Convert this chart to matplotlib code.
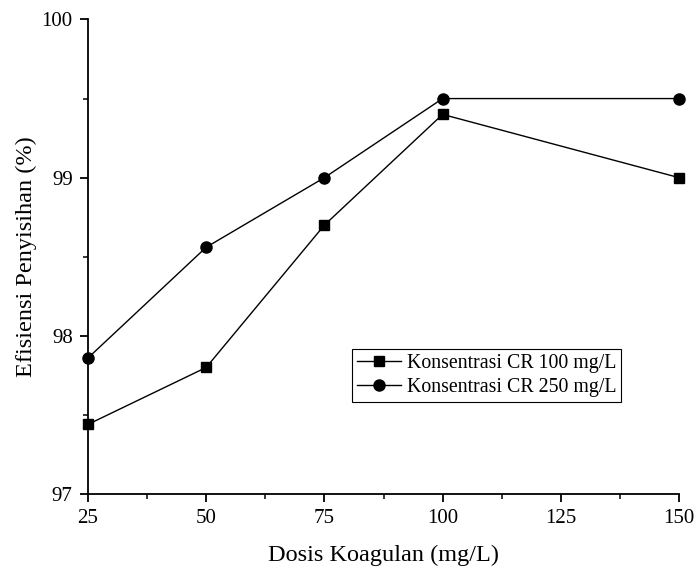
import matplotlib
matplotlib.use('Agg')
import matplotlib.pyplot as plt
from matplotlib.ticker import MultipleLocator

dosis = [25, 50, 75, 100, 150]
cr100 = [97.44, 97.80, 98.70, 99.40, 99.00]
cr250 = [97.86, 98.56, 99.00, 99.50, 99.50]

plt.rcParams['font.family'] = ['Liberation Serif', 'DejaVu Serif']

fig = plt.figure(figsize=(6.95, 5.68), dpi=100)
ax = fig.add_axes([0.1266, 0.1303, 0.8504, 0.8354])

ax.plot(dosis, cr100, color='black', lw=1, marker='s', ms=7, label='Konsentrasi CR 100 mg/L', clip_on=False, zorder=3)
ax.plot(dosis, cr250, color='black', lw=1, marker='o', ms=8, label='Konsentrasi CR 250 mg/L', clip_on=False, zorder=3)

ax.set_xlim(25, 150)
ax.set_ylim(97, 100)
ax.xaxis.set_major_locator(MultipleLocator(25))
ax.xaxis.set_minor_locator(MultipleLocator(12.5))
ax.yaxis.set_major_locator(MultipleLocator(1))
ax.yaxis.set_minor_locator(MultipleLocator(0.5))

for s in ['top', 'right']:
    ax.spines[s].set_visible(False)
for s in ['left', 'bottom']:
    ax.spines[s].set_linewidth(1.3)

ax.tick_params(which='major', direction='out', length=6, width=1.3, labelsize=15, pad=5)
ax.tick_params(which='minor', direction='out', length=3.5, width=1.1)

ax.set_xlabel('Dosis Koagulan (mg/L)', fontsize=17.5, labelpad=12)
ax.set_ylabel('Efisiensi Penyisihan (%)', fontsize=17.5, labelpad=3)

leg = ax.legend(loc='upper left', bbox_to_anchor=(0.447, 0.306), fontsize=14.3,
                frameon=True, fancybox=False, edgecolor='black', framealpha=1,
                handlelength=2.2, handletextpad=0.3, borderpad=0.25, labelspacing=0.25,
                borderaxespad=0)
leg.get_frame().set_linewidth(0.8)

fig.savefig('out.png', dpi=100)
